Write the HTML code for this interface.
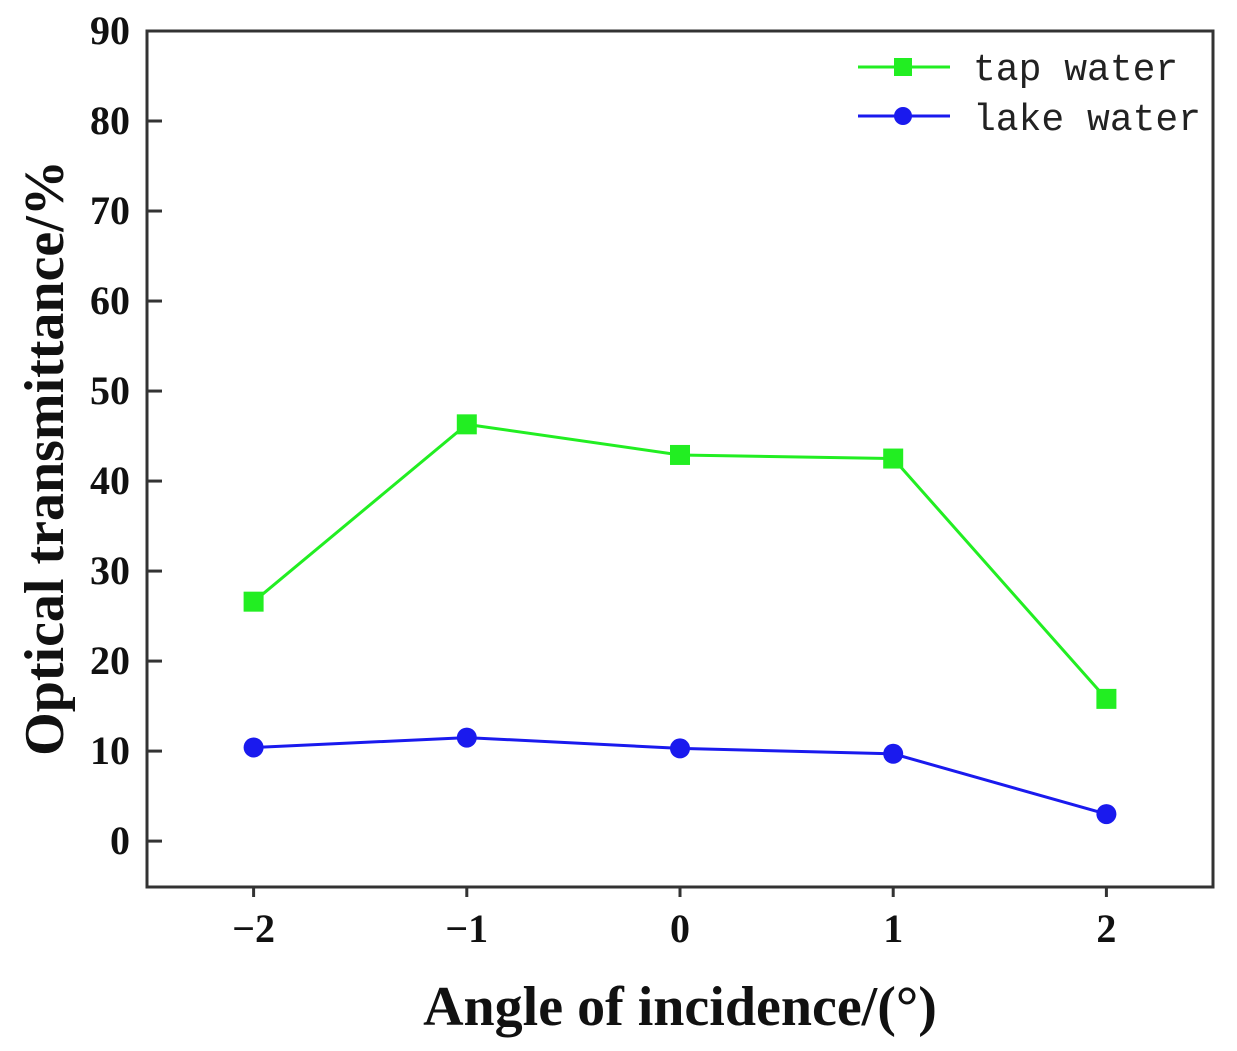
<!DOCTYPE html>
<html><head><meta charset="utf-8"><style>
html,body{margin:0;padding:0;background:#fff;}
svg{display:block;}
.tick{font-family:"Liberation Serif",serif;font-weight:bold;font-size:40px;fill:#111;}
.title{font-family:"Liberation Serif",serif;font-weight:bold;font-size:56px;fill:#111;}
.leg{font-family:"Liberation Mono",monospace;font-size:38px;fill:#222;}
</style></head><body>
<svg id="chart" width="1237" height="1051">
<rect x="147" y="31" width="1066" height="856" fill="none" stroke="#333" stroke-width="3"/>
<g id="axes"></g>
<g id="series"></g>
<text class="title" x="680" y="1025" text-anchor="middle">Angle of incidence/(°)</text>
<text class="title" transform="translate(63,458) rotate(-90)" text-anchor="middle">Optical transmittance/%</text>
<g>
<line x1="858" y1="67" x2="950" y2="67" stroke="#22ee22" stroke-width="3"/>
<rect x="894" y="58" width="18" height="18" fill="#22ee22"/>
<text class="leg" x="973" y="80">tap water</text>
<line x1="858" y1="116" x2="950" y2="116" stroke="#1a1aee" stroke-width="3"/>
<circle cx="903" cy="116" r="9" fill="#1a1aee"/>
<text class="leg" x="973" y="130">lake water</text>
</g>
</svg>
<script>
const categories = [-2, -1, 0, 1, 2];
const tapWater = [26.6, 46.3, 42.9, 42.5, 15.8];
const lakeWater = [10.4, 11.5, 10.3, 9.7, 3.0];
const yTicks = [0, 10, 20, 30, 40, 50, 60, 70, 80, 90];
const xTickLabels = ["\u22122", "\u22121", "0", "1", "2"];

const NS = "http://www.w3.org/2000/svg";
const xs = v => 147 + (v + 2.5) / 5 * 1066;
const ys = v => 887 - (v + 5.1) / 95.1 * 856;
const axes = document.getElementById('axes');
const series = document.getElementById('series');
function mk(tag, attrs, parent) {
  const e = document.createElementNS(NS, tag);
  for (const k in attrs) e.setAttribute(k, attrs[k]);
  parent.appendChild(e);
  return e;
}
yTicks.forEach(t => {
  const y = ys(t);
  const l = mk('line', {x1: 147, x2: 162, y1: y, y2: y, stroke: '#333', 'stroke-width': 3}, axes);
  
  
  const tx = mk('text', {x: 130, y: y + 13, 'text-anchor': 'end', class: 'tick'}, axes);
  tx.textContent = t;
  
  
});
categories.forEach((c, i) => {
  const x = xs(c);
  const l = mk('line', {x1: x, x2: x, y1: 887, y2: 897, stroke: '#333', 'stroke-width': 3}, axes);
  
  
  const tx = mk('text', {x: x, y: 942, 'text-anchor': 'middle', class: 'tick'}, axes);
  tx.textContent = xTickLabels[i];
  
  
});
function draw(vals, color, shape, name) {
  const pts = vals.map((v, i) => xs(categories[i]) + ',' + ys(v)).join(' ');
  const pl = mk('polyline', {points: pts, fill: 'none', stroke: color, 'stroke-width': 3}, series);
  
  
  vals.forEach((v, i) => {
    const x = xs(categories[i]), y = ys(v);
    let m;
    if (shape === 'square') m = mk('rect', {x: x - 10, y: y - 10, width: 20, height: 20, fill: color}, series);
    else m = mk('circle', {cx: x, cy: y, r: 10, fill: color}, series);
    
    
  });
}
draw(tapWater, '#22ee22', 'square', 'tap-water');
draw(lakeWater, '#1a1aee', 'circle', 'lake-water');
</script>
</body></html>
